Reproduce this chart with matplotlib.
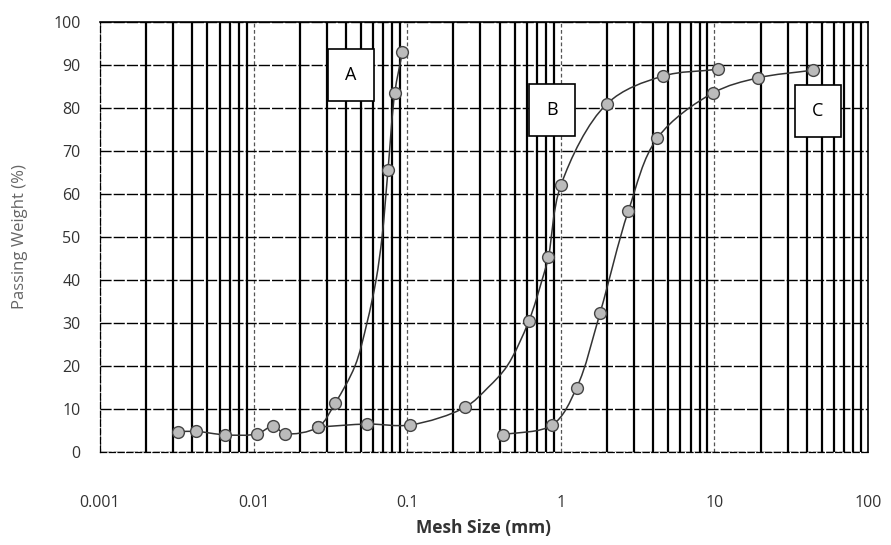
import numpy as np
import matplotlib
matplotlib.use("Agg")
import matplotlib.pyplot as plt
from matplotlib.path import Path
from matplotlib.patches import PathPatch
from matplotlib.ticker import FixedLocator, FixedFormatter, LogLocator, NullFormatter

plt.rcParams['font.family'] = ['Open Sans', 'DejaVu Sans']

# ---- data ----
# measured points (markers)
a_size = [0.0032, 0.0042, 0.0065, 0.0105, 0.0134, 0.016, 0.0263, 0.034, 0.075, 0.083, 0.093]
a_pass = [4.7, 4.8, 4.0, 4.2, 6.0, 4.3, 5.8, 11.4, 65.6, 83.5, 93.0]

b_size = [0.0263, 0.055, 0.105, 0.238, 0.62, 0.83, 1.0, 2.0, 4.6, 10.5]
b_pass = [5.8, 6.5, 6.3, 10.4, 30.5, 45.3, 62.0, 81.0, 87.4, 89.0]

c_size = [0.42, 0.88, 1.27, 1.8, 2.75, 4.25, 9.8, 19.2, 43.8]
c_pass = [4.0, 6.3, 15.0, 32.3, 56.0, 73.0, 83.5, 87.0, 88.8]

# extra positions read along the drawn curves between markers
a_curve_size = [0.0032, 0.0042, 0.0065, 0.0105, 0.0134, 0.016, 0.0263, 0.034, 0.0457, 0.0547, 0.0627, 0.0686, 0.075, 0.083, 0.093]
a_curve_pass = [4.7, 4.8, 4.0, 4.2, 6.0, 4.3, 5.8, 11.4, 20.0, 30.0, 40.0, 50.0, 65.6, 83.5, 93.0]

b_curve_size = [0.0263, 0.055, 0.105, 0.238, 0.336, 0.447, 0.62, 0.755, 0.83, 1.0, 2.0, 4.6, 10.5]
b_curve_pass = [5.8, 6.5, 6.3, 10.4, 15.0, 20.0, 30.5, 40.0, 45.3, 62.0, 81.0, 87.4, 89.0]

x_ticks = [0.001, 0.01, 0.1, 1, 10, 100]
x_tick_labels = ["0.001", "0.01", "0.1", "1", "10", "100"]
y_ticks = [0, 10, 20, 30, 40, 50, 60, 70, 80, 90, 100]

labels = ["A", "B", "C"]
label_pos = [(0.043, 87.7), (0.877, 79.5), (47.3, 79.3)]

PX_PER_DECADE = 153.6
PX_PER_UNIT = 4.3


def smooth_patch(xs, ys, alpha=0.5, **kw):
    """Centripetal Catmull-Rom curve through the points, drawn as a Bezier path."""
    P = np.column_stack([np.log10(xs) * PX_PER_DECADE, np.asarray(ys, float) * PX_PER_UNIT])
    n = len(P)
    verts = [(xs[0], ys[0])]
    codes = [Path.MOVETO]

    def to_data(p):
        return (10 ** (p[0] / PX_PER_DECADE), p[1] / PX_PER_UNIT)

    for i in range(n - 1):
        p0 = P[i - 1] if i > 0 else 2 * P[i] - P[i + 1]
        p1 = P[i]
        p2 = P[i + 1]
        p3 = P[i + 2] if i + 2 < n else 2 * P[i + 1] - P[i]
        d0 = max(np.linalg.norm(p1 - p0) ** alpha, 1e-6)
        d1 = max(np.linalg.norm(p2 - p1) ** alpha, 1e-6)
        d2 = max(np.linalg.norm(p3 - p2) ** alpha, 1e-6)
        m1 = (p1 - p0) / d0 - (p2 - p0) / (d0 + d1) + (p2 - p1) / d1
        m2 = (p2 - p1) / d1 - (p3 - p1) / (d1 + d2) + (p3 - p2) / d2
        c1 = p1 + m1 * d1 / 3
        c2 = p2 - m2 * d1 / 3
        for c in (c1, c2, p2):
            verts.append(to_data(c))
        codes += [Path.CURVE4] * 3
    return PathPatch(Path(verts, codes), fill=False, **kw)


fig = plt.figure(figsize=(8.91, 5.45), dpi=100)
ax = fig.add_axes([100 / 891, 1 - 452 / 545, 768 / 891, 430 / 545])
ax.set_xscale("log")
ax.set_xlim(0.001, 100)
ax.set_ylim(0, 100)

# grid: thick solid minor verticals, thin dashed decade verticals, dashed horizontals
ax.xaxis.set_minor_locator(LogLocator(base=10, subs=np.arange(2, 10)))
ax.xaxis.set_minor_formatter(NullFormatter())
ax.grid(True, which="minor", axis="x", color="black", lw=1.6, ls="-")
ax.grid(True, which="major", axis="x", color="#555555", lw=0.9, ls=(0, (3, 2)))
ax.grid(True, which="major", axis="y", color="black", lw=1.0, ls=(0, (8, 1.5)))
ax.set_axisbelow(True)

ax.xaxis.set_major_locator(FixedLocator(x_ticks))
ax.xaxis.set_major_formatter(FixedFormatter(x_tick_labels))
ax.set_yticks(y_ticks)
ax.tick_params(axis="both", which="both", length=0, labelsize=11.5, colors="#333333")
ax.tick_params(axis="x", pad=31)
ax.tick_params(axis="y", pad=14)

for side in ["left", "bottom"]:
    ax.spines[side].set_linestyle((0, (5, 2)))
    ax.spines[side].set_linewidth(0.9)
for side in ["top", "right"]:
    ax.spines[side].set_linewidth(1.2)

curves = [(a_curve_size, a_curve_pass), (b_curve_size, b_curve_pass), (c_size, c_pass)]
points = [(a_size, a_pass), (b_size, b_pass), (c_size, c_pass)]
for (cx, cy), (xs, ys) in zip(curves, points):
    ax.add_patch(smooth_patch(cx, cy, edgecolor="#333333", lw=1.1, zorder=3))
    ax.plot(xs, ys, ls="none", marker="o", ms=8.5, mfc="#bbbbbb", mec="#444444",
            mew=1.0, zorder=4)

for lab, (lx, ly) in zip(labels, label_pos):
    ax.text(lx, ly, lab, fontsize=13, ha="center", va="center", zorder=5,
            bbox=dict(boxstyle="square,pad=0.95", fc="white", ec="black", lw=1.2))

ax.set_xlabel("Mesh Size (mm)", fontsize=12.5, fontweight="bold", color="#333333", labelpad=6)
ax.set_ylabel("Passing Weight (%)", fontsize=12, color="#666666", labelpad=18)

fig.savefig("out.png", dpi=100)
